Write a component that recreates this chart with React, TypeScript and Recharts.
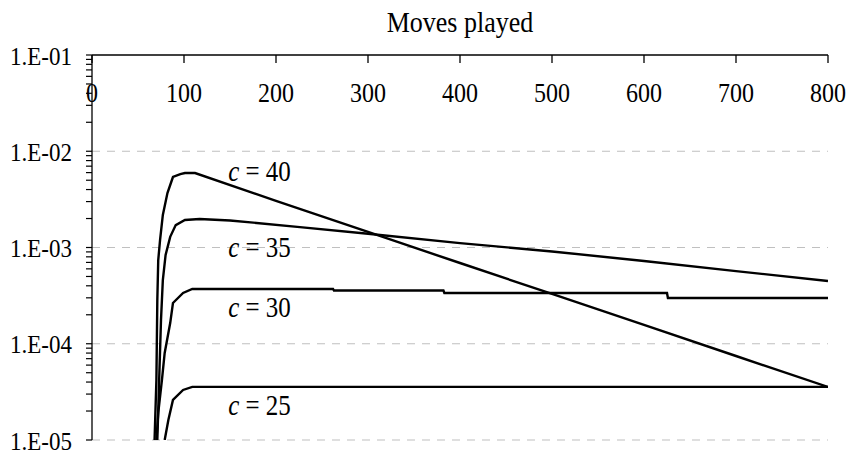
import {
  LineChart,
  Line,
  XAxis,
  YAxis,
  ReferenceLine,
  ReferenceDot,
} from "recharts";

// probability curves for each c, sampled at moves played
const c40Moves = [68, 70, 71, 72, 74, 77, 82, 88, 96, 101, 112, 200, 300, 400, 500, 600, 700, 800];
const c40Values = [
  1e-5, 4.2e-5, 2.85e-4, 7.4e-4, 1.2e-3, 2.18e-3, 3.68e-3, 5.4e-3, 5.79e-3, 5.94e-3, 5.94e-3,
  3.05e-3, 1.45e-3, 6.9e-4, 3.29e-4, 1.57e-4, 7.46e-5, 3.56e-5,
];

const c35Moves = [71, 73, 75, 77, 80, 85, 91, 101, 117, 150, 226, 300, 400, 500, 600, 700, 800];
const c35Values = [
  1e-5, 4.2e-5, 1.77e-4, 4.59e-4, 8.36e-4, 1.29e-3, 1.71e-3, 1.93e-3, 1.98e-3, 1.91e-3, 1.63e-3,
  1.39e-3, 1.11e-3, 9.1e-4, 7.24e-4, 5.69e-4, 4.49e-4,
];

const c30Moves = [70, 72, 76, 79, 85, 88, 99, 109, 262, 263, 382, 383, 625, 626, 800];
const c30Values = [
  1e-5, 1.91e-5, 4.2e-5, 8.02e-5, 1.64e-4, 2.65e-4, 3.37e-4, 3.71e-4, 3.71e-4, 3.57e-4, 3.57e-4,
  3.37e-4, 3.37e-4, 2.99e-4, 2.99e-4,
];

const c25Moves = [79, 83, 88, 99, 109, 800];
const c25Values = [1e-5, 1.61e-5, 2.61e-5, 3.31e-5, 3.56e-5, 3.56e-5];

// curve labels
const labelNames = ["40", "35", "30", "25"];
const labelMoves = [148, 148, 148, 148];
const labelValues = [4.91e-3, 7.96e-4, 1.9e-4, 1.82e-5];

const xTicks = [0, 100, 200, 300, 400, 500, 600, 700, 800];
const decades = [1e-5, 1e-4, 1e-3, 1e-2, 1e-1];
const gridDecades = [1e-5, 1e-4, 1e-3, 1e-2];
const minorSteps = [2, 3, 4, 5, 6, 7, 8, 9];

const zip = (moves: number[], values: number[]) =>
  moves.map((m, i) => ({ move: m, p: values[i] }));

const series = [
  zip(c40Moves, c40Values),
  zip(c35Moves, c35Values),
  zip(c30Moves, c30Values),
  zip(c25Moves, c25Values),
];

const yTicks: number[] = [];
decades.forEach((d, i) => {
  yTicks.push(d);
  if (i < decades.length - 1) minorSteps.forEach((s) => yTicks.push(d * s));
});

const FONT = "'Liberation Serif', 'Times New Roman', serif";

const isDecade = (v: number) => Math.abs(Math.log10(v) - Math.round(Math.log10(v))) < 1e-6;

const formatSci = (v: number) => {
  const e = Math.round(Math.log10(v));
  return `1.E${e < 0 ? "-" : "+"}${String(Math.abs(e)).padStart(2, "0")}`;
};

// text is drawn slightly taller than wide, like the old Excel export
const stretch = (x: number, y: number, k = 1.15) =>
  `translate(${x} ${y}) scale(1 ${k}) translate(${-x} ${-y})`;

const YTick = (props: any) => {
  const { x, y, payload } = props;
  if (!isDecade(payload.value)) return <g />;
  return (
    <text
      x={x}
      y={y}
      dy="0.35em"
      textAnchor="end"
      fontSize={23}
      fontFamily={FONT}
      fill="#000"
      transform={stretch(x, y - 6, 1.12)}
    >
      {formatSci(payload.value)}
    </text>
  );
};

const XTick = (props: any) => {
  const { x, y, payload } = props;
  return (
    <g>
      <line x1={x} y1={y} x2={x} y2={y + 8} stroke="#000" strokeWidth={1.3} />
      <text
        x={x}
        y={y + 47}
        textAnchor="middle"
        fontSize={24}
        fontFamily={FONT}
        fill="#000"
        transform={stretch(x, y + 47)}
      >
        {payload.value}
      </text>
    </g>
  );
};

const CurveLabel = (name: string) => (props: any) => (
  <text
    x={props.cx}
    y={props.cy}
    fontSize={25}
    fontFamily={FONT}
    fill="#000"
    transform={stretch(props.cx, props.cy)}
  >
    <tspan fontStyle="italic">c</tspan>
    <tspan> = {name}</tspan>
  </text>
);

const Title = (props: any) => {
  const { viewBox } = props;
  const x = viewBox.x + viewBox.width / 2;
  const y = viewBox.y - 22;
  return (
    <text
      x={x}
      y={y}
      textAnchor="middle"
      fontSize={26}
      fontFamily={FONT}
      fill="#000"
      transform={stretch(x, y)}
    >
      Moves played
    </text>
  );
};

export default function App() {
  return (
    <div style={{ position: "absolute", left: 0, top: 0 }}>
      <LineChart
        width={848}
        height={452}
        margin={{ top: 54, right: 20, bottom: 12, left: 0 }}
        style={{ background: "#fff" }}
      >
        <XAxis
          xAxisId={0}
          type="number"
          dataKey="move"
          orientation="top"
          domain={[0, 800]}
          ticks={xTicks}
          interval={0}
          allowDataOverflow
          height={1}
          tickSize={0}
          tickMargin={0}
          tickLine={false}
          tick={<XTick />}
          axisLine={{ stroke: "#000", strokeWidth: 1.3 }}
          label={<Title />}
        />
        <YAxis
          yAxisId={0}
          type="number"
          scale="log"
          domain={[1e-5, 1e-1]}
          ticks={yTicks}
          interval={0}
          allowDataOverflow
          width={92}
          tickSize={6}
          tickMargin={14}
          tickLine={{ stroke: "#000", strokeWidth: 1.2 }}
          axisLine={{ stroke: "#000", strokeWidth: 1.3 }}
          tick={<YTick />}
        />
        {gridDecades.map((d) => (
          <ReferenceLine
            key={d}
            y={d}
            stroke="#c0c0c0"
            strokeWidth={1.2}
            strokeDasharray="8 7"
          />
        ))}
        {series.map((data, i) => (
          <Line
            key={labelNames[i]}
            data={data}
            dataKey="p"
            type="linear"
            stroke="#000"
            strokeWidth={2.4}
            dot={false}
            activeDot={false}
            isAnimationActive={false}
          />
        ))}
        {labelNames.map((name, i) => (
          <ReferenceDot
            key={name}
            x={labelMoves[i]}
            y={labelValues[i]}
            r={0}
            shape={CurveLabel(name)}
          />
        ))}
      </LineChart>
    </div>
  );
}
